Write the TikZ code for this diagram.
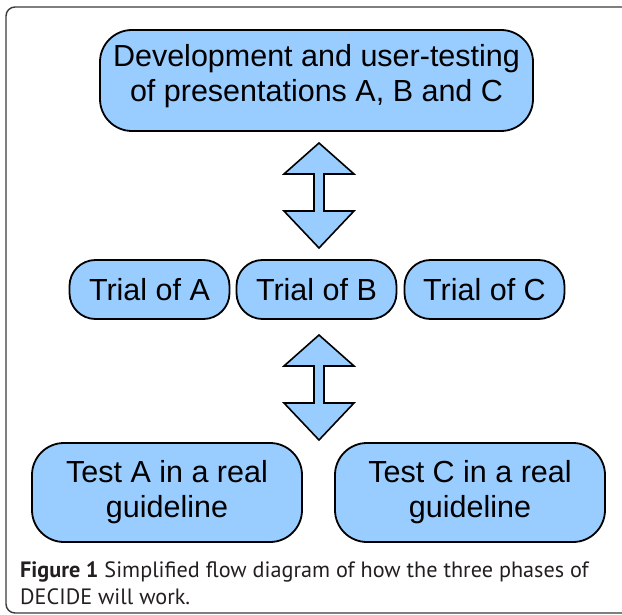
\documentclass[tikz,border=0pt]{standalone}
\usepackage{fontspec}
\setmainfont{Liberation Sans}
\newfontfamily\capfont{PT Sans}
\definecolor{boxblue}{HTML}{99CCFF}
\definecolor{captext}{HTML}{231F20}
\definecolor{framegray}{HTML}{3A3A3A}
\newcommand{\updownblock}[3]{% cx, top y, bottom y
  \draw[blockarrow] (#1,#2) -- ++(35,31) -- ++(-30,0) -- ++(0,37) -- ++(30,0)
    -- (#1,#3) -- ++(-35,-37) -- ++(30,0) -- ++(0,-37) -- ++(-30,0) -- cycle;}
\begin{document}
\begin{tikzpicture}[x=1pt,y=-1pt,
  box/.style={draw=black, line width=1.8pt, fill=boxblue, rounded corners=32pt,
    inner sep=0pt, align=center, font=\fontsize{30.5}{35}\selectfont},
  trialbox/.style={box, rounded corners=26pt, minimum width=160pt, minimum height=59pt},
  testbox/.style={box, minimum width=270pt, minimum height=99pt},
  blockarrow/.style={draw=black, line width=1.6pt, fill=boxblue, line join=miter},
  captionstyle/.style={anchor=base west, inner sep=0pt, text=captext,
    font=\capfont\fontsize{22.2}{27}\selectfont}]
\useasboundingbox (0,0) rectangle (622,615);
\begin{scope}
\clip (0,0) rectangle (622,615);
\draw[framegray, line width=1.4pt, rounded corners=9pt] (6,7) rectangle (660,613);
\end{scope}

\node[box, minimum width=433pt, minimum height=101pt] (dev) at (316.5,80.5)
  {Development and user-testing\\of presentations A, B and C\rule[-16pt]{0pt}{16pt}};

\node[trialbox] (ta) at (149.5,289.5) {Trial of A};
\node[trialbox] (tb) at (316.5,289.5) {Trial of B};
\node[trialbox] (tc) at (484.5,289.5) {Trial of C};

\node[testbox] (testa) at (167,492.5) {Test A in a real\\guideline};
\node[testbox] (testc) at (470,492.5) {Test C in a real\\guideline};

\updownblock{319}{143}{248}
\updownblock{319}{335}{440}

\node[captionstyle] (cap1) at (20,577) {\textbf{Figure 1} Simplified flow diagram of how the three phases of};
\node[captionstyle] (cap2) at (20,604) {DECIDE will work.};
\end{tikzpicture}
\end{document}
